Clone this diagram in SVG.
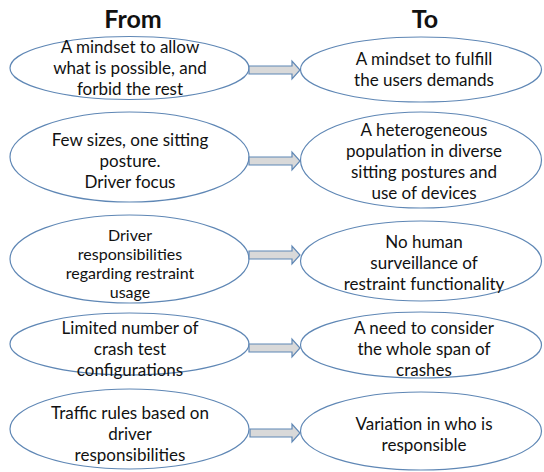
<svg xmlns="http://www.w3.org/2000/svg" width="544" height="472" viewBox="0 0 544 472">
<style>
.node ellipse{fill:#ffffff;stroke:#5f87b5;stroke-width:1.2}
.node text,.title{font-family:Lato,"Liberation Sans",Arial,sans-serif;font-size:17px;fill:#111;text-anchor:middle}
.node text.tight{font-size:16px}
.title{font-size:25px;font-weight:bold}
.arrow{fill:#d9d9d9;stroke:#5f87b5;stroke-width:1.2;stroke-linejoin:miter}
</style>
<rect width="544" height="472" fill="#ffffff"/>
<text class="title" x="133" y="28">From</text>
<text class="title" x="425" y="28">To</text>

<g id="from1" class="node">
<ellipse cx="129.5" cy="68" rx="119.5" ry="31.5"/>
<text x="130" y="53">A mindset to allow</text>
<text x="130" y="74">what is possible, and</text>
<text x="130" y="95">forbid the rest</text>
</g>
<g id="to1" class="node">
<ellipse cx="421" cy="69.5" rx="120.5" ry="32.5"/>
<text x="424" y="65">A mindset to fulfill</text>
<text x="424" y="86">the users demands</text>
</g>

<g id="from2" class="node">
<ellipse cx="129.5" cy="157" rx="119.5" ry="45"/>
<text x="130" y="146">Few sizes, one sitting</text>
<text x="130" y="167">posture.</text>
<text x="130" y="188">Driver focus</text>
</g>
<g id="to2" class="node">
<ellipse cx="421" cy="160" rx="120.5" ry="48"/>
<text x="424" y="136">A heterogeneous</text>
<text x="424" y="157">population in diverse</text>
<text x="424" y="178">sitting postures and</text>
<text x="424" y="199">use of devices</text>
</g>

<g id="from3" class="node">
<ellipse cx="129.5" cy="259" rx="119.5" ry="44"/>
<text class="tight" x="130" y="241">Driver</text>
<text class="tight" x="130" y="260">responsibilities</text>
<text class="tight" x="130" y="279">regarding restraint</text>
<text class="tight" x="130" y="298">usage</text>
</g>
<g id="to3" class="node">
<ellipse cx="421" cy="261" rx="120.5" ry="40"/>
<text x="424" y="248">No human</text>
<text x="424" y="269">surveillance of</text>
<text x="424" y="290">restraint functionality</text>
</g>

<g id="from4" class="node">
<ellipse cx="129.5" cy="344" rx="119.5" ry="31"/>
<text x="130" y="334">Limited number of</text>
<text x="130" y="355">crash test</text>
<text x="130" y="376">configurations</text>
</g>
<g id="to4" class="node">
<ellipse cx="421" cy="345" rx="120.5" ry="33"/>
<text x="424" y="334">A need to consider</text>
<text x="424" y="355">the whole span of</text>
<text x="424" y="376">crashes</text>
</g>

<g id="from5" class="node">
<ellipse cx="129.5" cy="429" rx="119.5" ry="40"/>
<text x="130" y="419">Traffic rules based on</text>
<text x="130" y="440">driver</text>
<text x="130" y="461">responsibilities</text>
</g>
<g id="to5" class="node">
<ellipse cx="421" cy="431" rx="120.5" ry="39"/>
<text x="424" y="430">Variation in who is</text>
<text x="424" y="451">responsible</text>
</g>

<g id="connectors">
<path class="arrow" d="M249,66 H292 V61 L300,70 L292,79 V74 H249 Z"/>
<path class="arrow" d="M249,157 H292 V152 L300,161 L292,170 V165 H249 Z"/>
<path class="arrow" d="M249,251 H292 V246 L300,255 L292,264 V259 H249 Z"/>
<path class="arrow" d="M249,344 H292 V339 L300,348 L292,357 V352 H249 Z"/>
<path class="arrow" d="M250,429 H292 V424 L300,433 L292,442 V437 H250 Z"/>
</g>
</svg>
